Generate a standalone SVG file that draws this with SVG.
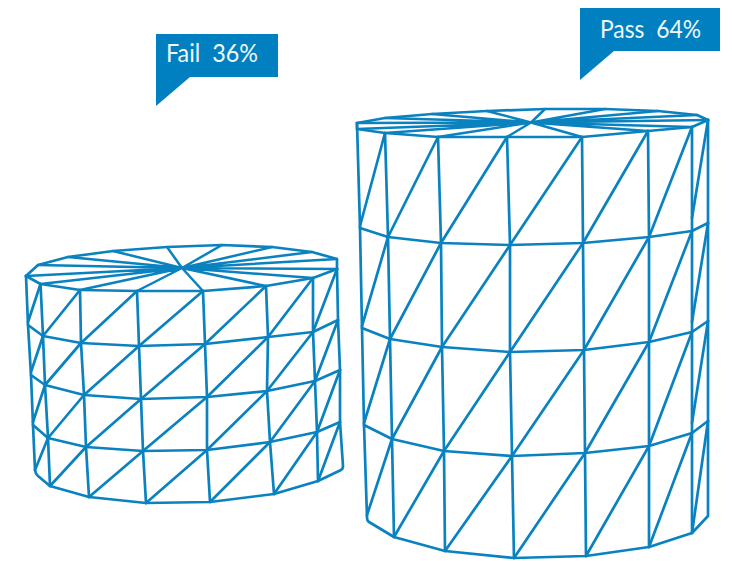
<svg xmlns="http://www.w3.org/2000/svg" width="732" height="561" viewBox="0 0 732 561">
<style>
.w{fill:none;stroke:#0a82c0;stroke-width:2.7;stroke-linejoin:round;stroke-linecap:round}
.f{stroke-width:2.5}
.b{fill:#0080c0}
.t{font-family:"Lato","Open Sans",sans-serif;font-weight:400;font-size:25px;fill:#f2f8fc;white-space:pre}
</style>
<rect width="732" height="561" fill="#ffffff"/>
<g id="fail-cylinder">
<path class="w f" d="M182,268L26,276M182,268L38,265M182,268L68,257M182,268L113,251M182,268L167,247M182,268L222,245M182,268L272,247M182,268L312,252M182,268L337,259M182,268L337,269M182,268L313,278M182,268L266,286M182,268L203,291M182,268L137,291M182,268L80,290M182,268L40.5,284"/>
<path class="w" d="M26,276L38,265L68,257L113,251L167,247L222,245L272,247L312,252L337,259L337,269"/>
<path class="w" d="M26,276L40.5,284L80,290L137,291L203,291L266,286L313,278L337,269"/>
<path class="w" d="M28,325L43,336L81,343L139,346L205,344L268,337L313,332L338,320"/>
<path class="w" d="M31,375L45,385L84,395L141,399L207,397L267,391L315,381L340,370"/>
<path class="w" d="M33,425L48,438L86,447L143,451L207,450L270,442L317,432L340,422"/>
<path class="w" d="M26,276L28,325L31,375L33,425L35,470Q35.500,474 38,476L50,486L89,497L146,503L210,502L274,494L318,481L341,470Q343,469 343,466L340,422L340,370L338,320L337,269"/>
<path class="w" d="M40.500,284L43,336L45,385L48,438L50,486M80,290L81,343L84,395L86,447L89,497M137,291L139,346L141,399L143,451L146,503M203,291L205,344L207,397L207,450L210,502M266,286L268,337L267,391L270,442L274,494M313,278L313,332L315,381L317,432L318,481"/>
<path class="w" d="M28,322L40.500,284M43,336L80,290M81,343L137,291M139,346L203,291M205,344L266,286M268,337L313,278M313,332L337,269"/>
<path class="w" d="M31,372L43,336M45,385L81,343M84,395L139,346M141,399L205,344M207,397L268,337M267,391L313,332M315,381L338,320"/>
<path class="w" d="M33,422L45,385M48,438L84,395M86,447L141,399M143,451L207,397M207,450L267,391M270,442L315,381M317,432L340,370"/>
<path class="w" d="M35,470L48,438M50,486L86,447M89,497L143,451M146,503L207,450M210,502L270,442M274,494L317,432M318,481L340,422"/>
</g>
<g id="pass-cylinder">
<path class="w f" d="M531,122.500L357,123M531,122.500L385,118M531,122.500L432,114M531,122.500L487,111M531,122.500L545,109M531,122.500L605,109M531,122.500L658,111M531,122.500L697,115M531,122.500L708,120M531,122.500L692,127M531,122.500L648,131M531,122.500L582,137M531,122.500L507,137M531,122.500L438,137M531,122.500L385,133M531,122.500L357,129"/>
<path class="w" d="M357,123L385,118L432,114L487,111L545,109L605,109L658,111L697,115L708,120"/>
<path class="w" d="M357,123L357,129L385,133L438,137L507,137L582,137L648,131L692,127L708,120"/>
<path class="w" d="M360,228L388,237L441,243L510,245L583,243L649,237L692,231L708,223"/>
<path class="w" d="M362,328L390,339L442,347L510,352L584,350L649,342L692,332L708,321"/>
<path class="w" d="M364,425L392,439L444,451L512,456L585,453L649,446L692,433L708,421"/>
<path class="w" d="M357,123L360,228L362,328L364,425L367,517Q367,521 369,522L394,537L445,551L514,558L586,556L649,547L692,533L708,516L708,120"/>
<path class="w" d="M385,133L388,237L390,339L392,439L394,537M438,137L441,243L442,347L444,451L445,551M507,137L510,245L510,352L512,456L514,558M582,137L583,243L584,350L585,453L586,556M648,131L649,237L649,342L649,446L649,547M692,127L692,231L692,332L692,433L692,533"/>
<path class="w" d="M360,226L385,133M388,237L438,137M441,243L507,137M510,245L582,137M583,243L648,131M649,237L692,127M692,218L708,120"/>
<path class="w" d="M362,326L388,237M390,339L441,243M442,347L510,245M510,352L583,243M584,350L649,237M649,342L692,231M692,322L708,223"/>
<path class="w" d="M364,423L390,339M392,439L442,347M444,451L510,352M512,456L584,350M585,453L649,342M649,446L692,332M692,423L708,321"/>
<path class="w" d="M367,515L392,439M394,537L444,451M445,551L512,456M514,558L585,453M586,556L649,446M649,547L692,433M692,533L708,421"/>
</g>
<g id="fail-label">
<path class="b" d="M156,34H278V77H190L156,106Z"/>
<text class="t" x="166" y="62" textLength="92" lengthAdjust="spacingAndGlyphs">Fail  36%</text>
</g>
<g id="pass-label">
<path class="b" d="M580,8H720V51H614L580,80Z"/>
<text class="t" x="600" y="38" textLength="101" lengthAdjust="spacingAndGlyphs">Pass  64%</text>
</g>
</svg>
